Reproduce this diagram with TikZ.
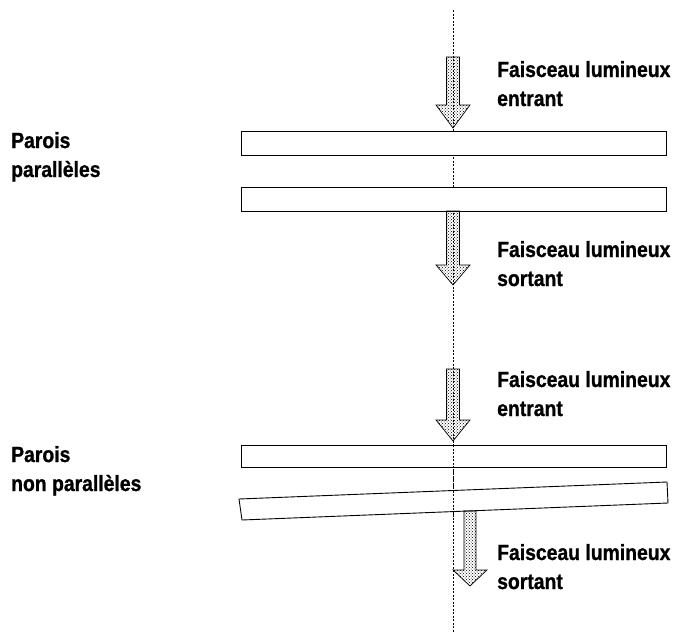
\documentclass[tikz,border=0pt]{standalone}
\usepackage{fontspec}
\setmainfont{Liberation Sans}[FakeStretch=0.88, FakeBold=1]
\usetikzlibrary{patterns}

\tikzset{
    paroi/.style={draw, line width=0.9pt},
    rayon/.style={draw, line width=0.7pt, pattern=crosshatch dots, pattern color=black},
    axe/.style={line width=0.6pt, dash pattern=on 2pt off 1.5pt},
    legende/.style={anchor=base west, inner sep=0pt, align=left, font=\fontsize{22}{29}\selectfont\bfseries},
}

% fleche : x, haut, debut pointe, bout, demi-largeur
\newcommand{\faisceau}[5]{
    \path[rayon] (#1-#5,#2) -- (#1+#5,#2) -- (#1+#5,#3) -- (#1+17,#3)
        -- (#1,#4) -- (#1-17,#3) -- (#1-#5,#3) -- cycle;
}

\begin{document}
\begin{tikzpicture}[x=1pt,y=-1pt]
                \useasboundingbox (0,0) rectangle (677,632);

                % axe optique
                \coordinate (haut) at (453,10);
                \coordinate (bas)  at (453,632);
                \draw[axe] (haut) -- (bas);

                % parois paralleles
                \draw[paroi, fill=white] (241,131) rectangle (666,155);
                \draw[paroi, fill=white] (241,187) rectangle (666,211);
                \faisceau{453}{57}{105}{128}{6.5}
                \faisceau{453}{211}{265}{285}{6.5}

                % parois non paralleles
                \draw[paroi, fill=white] (241,445) rectangle (666,467);
                \draw[paroi, fill=white] (239,499) -- (667,482) -- (668,503) -- (242,520) -- cycle;
                \draw[axe] (453,445) -- (453,520);
                \faisceau{453}{369}{420}{441}{6.5}
                \faisceau{470}{511}{570}{586}{6}

                % legendes (ancre sur la derniere ligne)
                \node[legende] (entree1) at (497,106) {Faisceau lumineux\\entrant};
                \node[legende] (sortie1) at (497,286) {Faisceau lumineux\\sortant};
                \node[legende] (entree2) at (497,416) {Faisceau lumineux\\entrant};
                \node[legende] (sortie2) at (497,589) {Faisceau lumineux\\sortant};
                \node[legende] (parois1) at (11,177)  {Parois\\parallèles};
                \node[legende] (parois2) at (11,491)  {Parois\\non parallèles};
            \end{tikzpicture}
\end{document}
